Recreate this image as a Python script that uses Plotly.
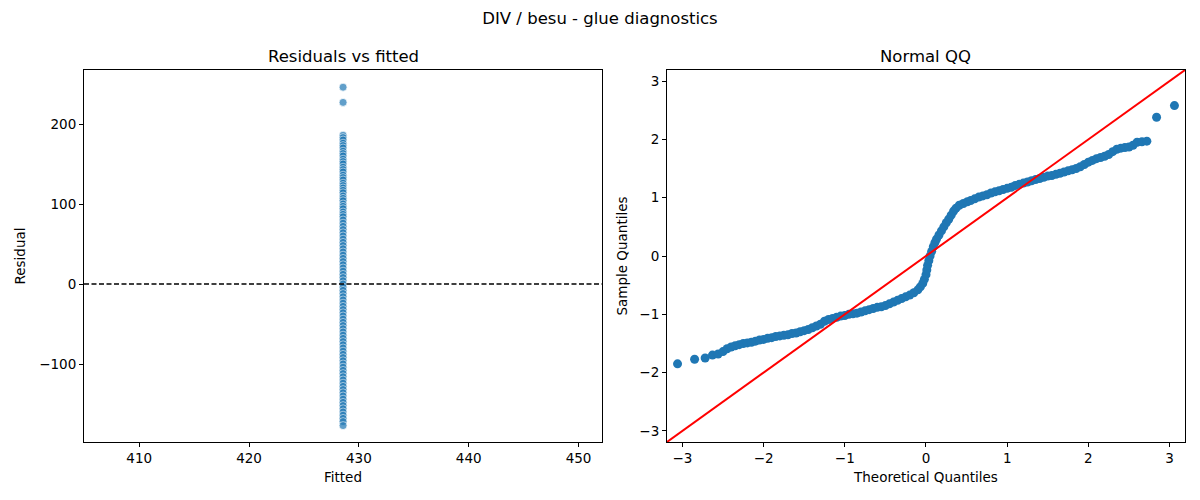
import plotly.graph_objects as go
from plotly.subplots import make_subplots

# ---------------- data ----------------
fitted_value = 428.56
residuals = [246, 227, 186, 183, 180, 176, 173, 170, 166, 163, 160, 156, 153, 150,
             146, 143, 140, 136, 133, 130, 126, 123, 120, 117, 114, 110, 107, 104,
             100, 97, 94, 90, 87, 84, 80, 76, 72, 68, 64, 60, 56, 52, 48, 44, 40,
             36, 32, 28, 24, 20, 16, 12, 8, 4, 0, -4, -8, -12, -16, -20, -24, -28,
             -32, -36, -40, -44, -48, -52, -56, -60, -64, -68, -72, -76, -80, -84,
             -88, -92, -96, -100, -104, -108, -112, -116, -120, -124, -128, -132,
             -136, -140, -144, -148, -152, -156, -160, -164, -168, -172, -177]
fitted = [fitted_value] * len(residuals)

theoretical_q = [-3.06, -2.85, -2.72, -2.63, -2.56, -2.50, -2.45, -2.40, -2.35, -2.30,
                 -2.25, -2.20, -2.15, -2.10, -2.05, -2.00, -1.95, -1.90, -1.85, -1.80,
                 -1.75, -1.70, -1.65, -1.60, -1.55, -1.50, -1.45, -1.40, -1.35, -1.30,
                 -1.25, -1.20, -1.15, -1.10, -1.05, -1.00, -0.95, -0.90, -0.85, -0.80,
                 -0.75, -0.70, -0.65, -0.60, -0.55, -0.50, -0.45, -0.40, -0.35, -0.30,
                 -0.25, -0.20, -0.15, -0.10, -0.07, -0.04, -0.02, 0.00, 0.01, 0.02,
                 0.035, 0.05, 0.07, 0.09, 0.11, 0.13, 0.16, 0.19, 0.22, 0.25, 0.28,
                 0.31, 0.34, 0.37, 0.41, 0.46, 0.51, 0.55, 0.60, 0.65, 0.70, 0.75,
                 0.80, 0.85, 0.90, 0.95, 1.00, 1.05, 1.10, 1.15, 1.20, 1.25, 1.30,
                 1.35, 1.40, 1.45, 1.50, 1.55, 1.60, 1.65, 1.70, 1.75, 1.80, 1.85,
                 1.90, 1.95, 2.00, 2.05, 2.10, 2.15, 2.20, 2.25, 2.30, 2.35, 2.40,
                 2.45, 2.50, 2.55, 2.60, 2.66, 2.72, 2.84, 3.06]
sample_q = [-1.85, -1.77, -1.75, -1.70, -1.68, -1.64, -1.59, -1.56, -1.54, -1.52,
            -1.50, -1.49, -1.48, -1.46, -1.44, -1.43, -1.41, -1.40, -1.38, -1.37,
            -1.36, -1.35, -1.33, -1.32, -1.30, -1.28, -1.26, -1.23, -1.20, -1.17,
            -1.12, -1.09, -1.07, -1.05, -1.03, -1.02, -1.00, -0.99, -0.98, -0.96,
            -0.94, -0.92, -0.90, -0.88, -0.87, -0.85, -0.82, -0.79, -0.76, -0.73,
            -0.70, -0.67, -0.63, -0.58, -0.53, -0.47, -0.40, -0.32, -0.24, -0.16,
            -0.08, 0.00, 0.08, 0.16, 0.23, 0.29, 0.36, 0.43, 0.50, 0.57, 0.63,
            0.70, 0.77, 0.82, 0.87, 0.90, 0.93, 0.95, 0.98, 1.01, 1.03, 1.05,
            1.08, 1.10, 1.12, 1.14, 1.16, 1.18, 1.21, 1.23, 1.25, 1.27, 1.29,
            1.31, 1.33, 1.35, 1.37, 1.38, 1.40, 1.42, 1.44, 1.46, 1.48, 1.50,
            1.53, 1.57, 1.61, 1.64, 1.67, 1.69, 1.71, 1.74, 1.79, 1.83, 1.85,
            1.86, 1.87, 1.90, 1.95, 1.96, 1.97, 2.38, 2.58]

left_x_range = [404.97, 452.14]
left_y_range = [-197.5, 267.5]
left_x_ticks = [410, 420, 430, 440, 450]
left_y_ticks = [-100, 0, 100, 200]
qq_range = [-3.19, 3.19]
qq_ticks = [-3, -2, -1, 0, 1, 2, 3]

# ---------------- figure ----------------
FONT = "DejaVu Sans"
BLUE = "#1f77b4"
# page body has an 8px default margin; figure is sized to fill the rest of the window
W, H, OFF = 1192, 492, 8

fig = make_subplots(rows=1, cols=2, subplot_titles=("Residuals vs fitted", "Normal QQ"),
                    horizontal_spacing=0.059)

fig.add_trace(go.Scatter(
    x=fitted, y=residuals, mode="markers",
    marker=dict(color=BLUE, size=8, opacity=0.7, line=dict(color="white", width=0.75)),
    showlegend=False, hoverinfo="skip"), row=1, col=1)

fig.add_hline(y=0, line=dict(color="black", width=1.3, dash="5px,2.5px"), row=1, col=1)

fig.add_trace(go.Scatter(
    x=theoretical_q, y=sample_q, mode="markers",
    marker=dict(color=BLUE, size=9, line=dict(width=0)),
    showlegend=False, hoverinfo="skip"), row=1, col=2)

fig.add_trace(go.Scatter(
    x=qq_range, y=qq_range, mode="lines",
    line=dict(color="red", width=2),
    showlegend=False, hoverinfo="skip"), row=1, col=2)

axis_common = dict(showline=True, linecolor="black", linewidth=1, mirror=True,
                   ticks="outside", ticklen=4, tickwidth=1, tickcolor="black",
                   showgrid=False, zeroline=False,
                   tickfont=dict(family=FONT, size=13.5, color="black"),
                   title_font=dict(family=FONT, size=13.5, color="black"))

fig.update_xaxes(range=left_x_range, tickvals=left_x_ticks, title_text="Fitted",
                 title_standoff=7, row=1, col=1, **axis_common)
fig.update_yaxes(range=left_y_range, tickvals=left_y_ticks, title_text="Residual",
                 title_standoff=10, row=1, col=1, **axis_common)
fig.update_xaxes(range=qq_range, tickvals=qq_ticks, title_text="Theoretical Quantiles",
                 title_standoff=7, row=1, col=2, **axis_common)
fig.update_yaxes(range=qq_range, tickvals=qq_ticks, title_text="Sample Quantiles",
                 title_standoff=8, row=1, col=2, **axis_common)

for ann in fig.layout.annotations:
    ann.font = dict(family=FONT, size=16.5, color="black")
    ann.yshift = 2

fig.update_layout(
    width=W, height=H,
    margin=dict(l=82 - OFF, r=15, t=70 - OFF, b=58),
    paper_bgcolor="white", plot_bgcolor="white",
    font=dict(family=FONT, color="black"),
    title=dict(text="DIV / besu - glue diagnostics", x=(600 - OFF) / W, xanchor="center",
               xref="container", y=1 - (18 - OFF) / H, yref="container", yanchor="middle",
               font=dict(family=FONT, size=16.5, color="black")),
)

fig.write_html("out.html")
